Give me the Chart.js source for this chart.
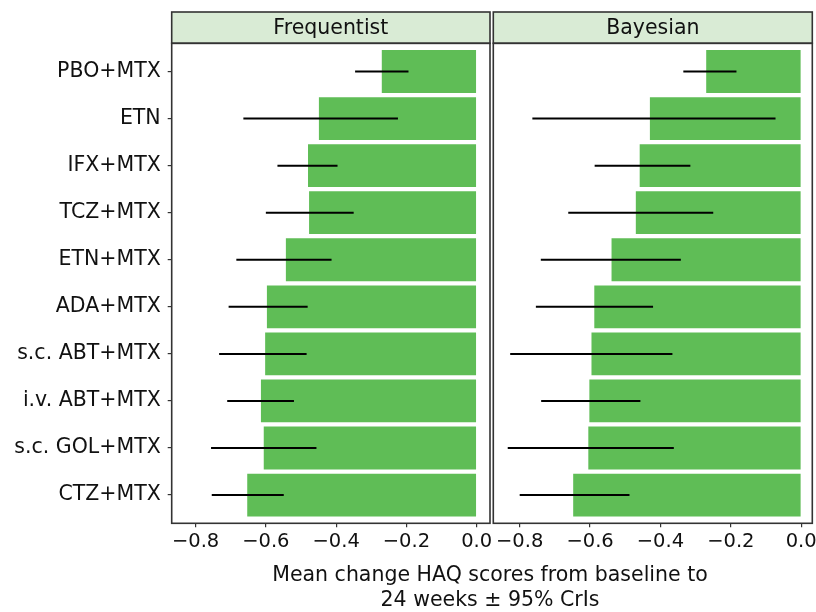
<!DOCTYPE html>
<html>
<head>
<meta charset="utf-8">
<script src="https://cdn.jsdelivr.net/npm/chart.js@4"></script>
<style>
    body { margin: 0; background: #fff; }
    #wrap { position: relative; width: 816px; height: 612px; overflow: hidden; }
    canvas { position: absolute; top: 0; }
    #xtitle {
        position: absolute; left: 170px; width: 640px; top: 562px;
        text-align: center; font-family: 'DejaVu Sans', sans-serif; font-size: 20.5px;
        line-height: 25px; color: #111;
    }
</style>
</head>
<body>
<div id="wrap">
    <canvas id="freqChart" width="492" height="612" style="left:0"></canvas>
    <canvas id="bayesChart" width="324" height="612" style="left:492px"></canvas>
    <div id="xtitle">Mean change HAQ scores from baseline to<br>24 weeks ± 95% CrIs</div>
</div>
<script>
const treatments = ['PBO+MTX', 'ETN', 'IFX+MTX', 'TCZ+MTX', 'ETN+MTX', 'ADA+MTX',
    's.c. ABT+MTX', 'i.v. ABT+MTX', 's.c. GOL+MTX', 'CTZ+MTX'];

// Frequentist estimates and 95% intervals
const freqMean = [-0.270, -0.449, -0.480, -0.477, -0.543, -0.597, -0.602, -0.614, -0.606, -0.653];
const freqLow = [-0.346, -0.664, -0.567, -0.600, -0.684, -0.706, -0.733, -0.710, -0.756, -0.754];
const freqHigh = [-0.194, -0.224, -0.396, -0.350, -0.413, -0.481, -0.484, -0.520, -0.456, -0.549];

// Bayesian estimates and 95% CrIs
const bayesMean = [-0.270, -0.430, -0.459, -0.470, -0.539, -0.588, -0.596, -0.602, -0.605, -0.648];
const bayesLow = [-0.335, -0.764, -0.587, -0.662, -0.740, -0.754, -0.827, -0.739, -0.834, -0.800];
const bayesHigh = [-0.184, -0.073, -0.315, -0.250, -0.342, -0.421, -0.366, -0.457, -0.362, -0.488];

const xTicks = [-0.8, -0.6, -0.4, -0.2, 0.0];

const FONT = "'DejaVu Sans', sans-serif";
const BAR_GREEN = '#5fbd56';

// strip on top, frame around panel, error bars
const panelPlugin = {
    id: 'panel',
    afterDatasetsDraw(chart, args, opts) {
        const ctx = chart.ctx;
        const xs = chart.scales.x;
        const ys = chart.scales.y;
        ctx.save();
        ctx.strokeStyle = '#000';
        ctx.lineWidth = 2;
        for (let i = 0; i < opts.low.length; i++) {
            const y = ys.getPixelForValue(i);
            ctx.beginPath();
            ctx.moveTo(xs.getPixelForValue(opts.low[i]), y);
            ctx.lineTo(xs.getPixelForValue(opts.high[i]), y);
            ctx.stroke();
        }
        ctx.restore();
    },
    afterDraw(chart, args, opts) {
        const ctx = chart.ctx;
        const a = chart.chartArea;
        ctx.save();
        ctx.fillStyle = '#d9ebd5';
        ctx.fillRect(a.left, 12, a.right - a.left, a.top - 12);
        ctx.strokeStyle = '#333';
        ctx.lineWidth = 1.6;
        ctx.strokeRect(a.left, 12, a.right - a.left, a.top - 12);
        ctx.strokeRect(a.left, a.top, a.right - a.left, a.bottom - a.top);
        ctx.fillStyle = '#111';
        ctx.font = '20.5px ' + FONT;
        ctx.textAlign = 'center';
        ctx.textBaseline = 'middle';
        ctx.fillText(opts.title, (a.left + a.right) / 2, (12 + a.top) / 2 + 1);
        ctx.restore();
    }
};

function formatTick(v) {
    if (Math.abs(v) < 1e-9) return '0.0';
    return (v < 0 ? '\u2212' : '') + Math.abs(v).toFixed(1);
}

function makePanel(canvasId, title, means, lows, highs, showY, padding, xMin, xMax) {
    const ctx = document.getElementById(canvasId).getContext('2d');
    return new Chart(ctx, {
        type: 'bar',
        data: {
            datasets: [{
                data: means.map((m, i) => ({ x: m, y: i })),
                backgroundColor: BAR_GREEN,
                borderWidth: 0,
                barPercentage: 0.91,
                categoryPercentage: 1
            }]
        },
        options: {
            indexAxis: 'y',
            responsive: false,
            animation: false,
            layout: { padding: padding },
            plugins: {
                legend: { display: false },
                tooltip: { enabled: false },
                panel: { title: title, low: lows, high: highs }
            },
            scales: {
                x: {
                    type: 'linear',
                    min: xMin,
                    max: xMax,
                    afterBuildTicks: s => { s.ticks = xTicks.map(v => ({ value: v })); },
                    afterFit: s => {
                        s.height = 612 - 523.3;
                        s.paddingLeft = 0;
                        s.paddingRight = 0;
                    },
                    grid: { drawOnChartArea: false, tickLength: 4, color: '#333', lineWidth: 1.2 },
                    border: { display: false },
                    ticks: {
                        maxRotation: 0,
                        padding: 3,
                        color: '#111',
                        font: { family: FONT, size: 19.5 },
                        callback: v => formatTick(v)
                    }
                },
                y: {
                    type: 'linear',
                    reverse: true,
                    offset: false,
                    min: -0.6,
                    max: treatments.length - 0.4,
                    display: showY,
                    afterBuildTicks: s => { s.ticks = treatments.map((t, i) => ({ value: i })); },
                    afterFit: s => {
                        s.width = showY ? 171.7 : 0;
                        s.paddingTop = 0;
                        s.paddingBottom = 0;
                    },
                    grid: { offset: false, drawOnChartArea: false, tickLength: 4, color: '#333', lineWidth: 1.2 },
                    border: { display: false },
                    ticks: {
                        padding: 7,
                        color: '#111',
                        font: { family: FONT, size: 20.5 },
                        callback: v => treatments[v]
                    }
                }
            }
        },
        plugins: [panelPlugin]
    });
}

makePanel('freqChart', 'Frequentist', freqMean, freqLow, freqHigh, true,
    { top: 43.3, right: 2, bottom: 0, left: 0 }, -0.868, 0.038);
makePanel('bayesChart', 'Bayesian', bayesMean, bayesLow, bayesHigh, false,
    { top: 43.3, right: 3.7, bottom: 0, left: 1.3 }, -0.875, 0.0315);
</script>
</body>
</html>
